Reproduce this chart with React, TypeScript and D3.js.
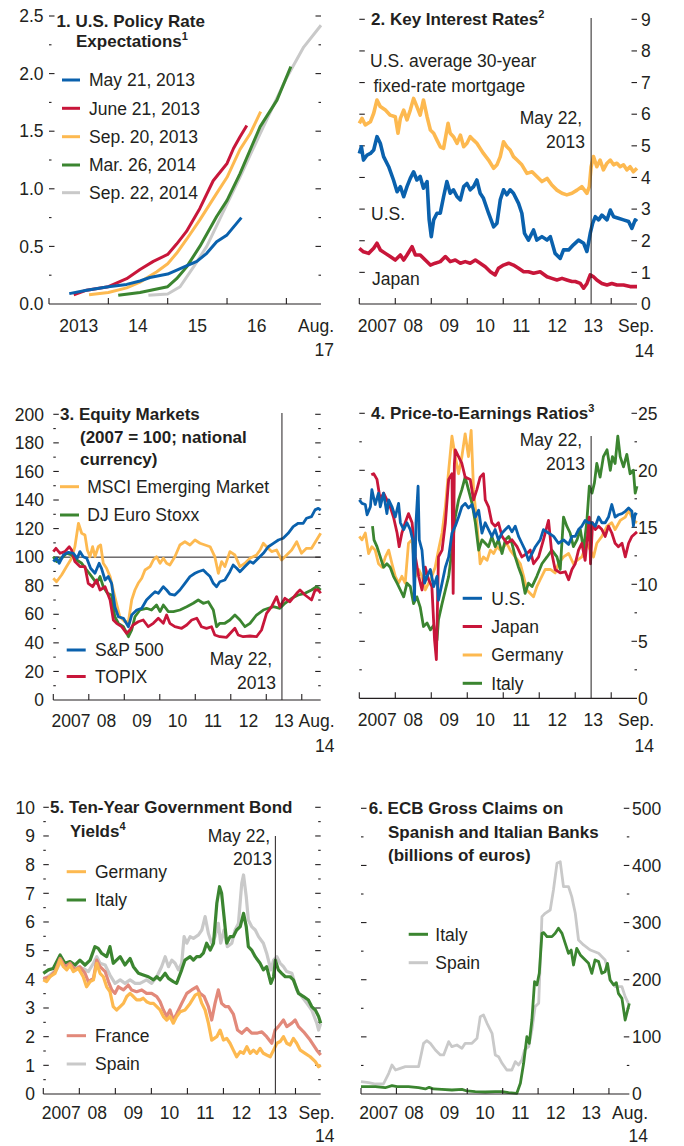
import React from 'react';
import * as d3 from 'd3';

type Pt = [number, number];

// ---------- Panel 1: U.S. policy rate expectations (x: months since Jan 2013, y: percent)
const p1May21: Pt[] = [[4.1,0.09],[7.6,0.12],[12,0.15],[15.7,0.17],[18.4,0.2],[20.4,0.23],[24,0.26],[27.8,0.33],[29.9,0.37],[31.9,0.44],[33.9,0.54],[36,0.6],[38.9,0.75]];
const p1Jun21: Pt[] = [[5.0,0.08],[7.6,0.12],[12,0.15],[15.7,0.22],[18.4,0.3],[21.1,0.37],[24,0.43],[25.8,0.52],[27.8,0.63],[30.5,0.83],[33.2,1.07],[36,1.22],[37.3,1.35],[38.6,1.45],[40,1.55]];
const p1Sep20: Pt[] = [[8.1,0.08],[12,0.1],[15.7,0.14],[18.4,0.19],[21.8,0.28],[24,0.35],[25.8,0.44],[27.8,0.56],[30.5,0.73],[33.9,0.96],[36,1.1],[38.6,1.34],[40.7,1.48],[42.8,1.67]];
const p1Mar26: Pt[] = [[14,0.075],[18.4,0.1],[21.8,0.13],[24,0.15],[25.8,0.22],[27.8,0.32],[30.5,0.5],[33.9,0.76],[36,0.9],[38.6,1.13],[42.7,1.54],[46.1,1.77],[48.9,2.06]];
const p1Sep22: Pt[] = [[20.1,0.075],[24,0.087],[26.5,0.15],[29.2,0.32],[31.9,0.5],[36,0.87],[38.6,1.1],[42.7,1.48],[48,1.96],[51.5,2.23],[55,2.42]];
const p1Years = ['2013', '14', '15', '16'];

// ---------- Panel 2: key interest rates (x: months since Jan 2007)
const p2Mortgage: Pt[] = [[0,5.71],[0.9,5.87],[2,5.66],[3.7,5.76],[4.8,6.03],[5.9,6.45],[7,6.24],[8.7,6.13],[10.3,5.97],[12,5.92],[12.9,5.4],[13.7,5.87],[14.8,6.13],[15.9,5.82],[17,6.13],[18.1,6.5],[19.2,6.24],[20.3,5.97],[21.4,6.45],[22.6,5.92],[23.7,5.5],[24.8,5.4],[25.9,5.18],[27,4.97],[28.1,4.92],[29.6,5.71],[30.3,5.4],[31.4,5.29],[32.6,5.08],[33.7,5.34],[34.8,4.97],[35.9,5.08],[37,5.29],[38.1,5.18],[39.2,5.08],[40.3,4.92],[41.4,4.76],[43.1,4.55],[44.8,4.29],[45.9,4.4],[47,4.66],[48.1,5.13],[49.2,4.97],[50.3,4.87],[51.4,4.66],[52.6,4.55],[54.2,4.4],[55.9,4.13],[57.6,4.18],[59.2,4.03],[60.9,3.87],[62.6,3.97],[64.2,3.76],[65.9,3.6],[67.6,3.5],[69.2,3.45],[70.9,3.5],[72.6,3.6],[74.2,3.71],[75.9,3.5],[76.7,3.71],[77.3,4.34],[78.1,4.66],[79.2,4.34],[80.3,4.55],[81.4,4.24],[82.6,4.45],[83.7,4.55],[84.8,4.4],[85.9,4.45],[87,4.34],[88.1,4.4],[89.2,4.24],[90.3,4.34],[91.4,4.18],[92.6,4.29]];
const p2US: Pt[] = [[0,4.76],[0.7,4.97],[1.4,4.55],[2.6,4.71],[3.7,4.76],[4.8,4.87],[5.9,5.29],[7,5.08],[8.1,4.66],[9.8,4.34],[11.4,3.92],[12.6,3.55],[13.7,3.71],[14.8,3.39],[15.9,3.71],[17,3.97],[18.1,4.18],[19.2,3.92],[20.3,4.03],[21.4,3.66],[22.6,3.87],[23.3,2.66],[24,2.13],[24.8,2.66],[25.9,2.87],[27,2.87],[28.1,3.39],[29.2,3.87],[30.3,3.5],[31.4,3.61],[32.6,3.39],[33.7,3.29],[34.8,3.71],[35.9,3.81],[37,3.61],[38.1,3.71],[39.2,3.92],[40.3,3.5],[41.4,3.34],[43.1,2.87],[44.8,2.44],[45.9,2.55],[47,3.29],[48.1,3.61],[49.2,3.45],[50.3,3.61],[51.4,3.5],[53.1,3.18],[54.2,2.87],[55.1,2.23],[56.4,2.02],[58.1,2.34],[59.2,2.02],[60.9,2.13],[62.6,2.02],[63.7,2.13],[65.3,1.6],[67,1.44],[68.1,1.71],[69.8,1.71],[71.4,1.87],[73.1,2.02],[74.8,1.92],[75.9,1.66],[77,2.23],[77.8,2.55],[78.7,2.76],[79.8,2.66],[80.9,2.81],[82.6,2.66],[83.7,2.97],[84.8,2.76],[86.4,2.71],[88.1,2.66],[89.8,2.61],[90.9,2.39],[92,2.66],[92.6,2.61]];
const p2Japan: Pt[] = [[0,1.76],[1.4,1.65],[3.1,1.6],[4.8,1.76],[5.9,1.92],[7,1.71],[8.7,1.6],[10.3,1.5],[12,1.39],[13.7,1.55],[14.8,1.39],[15.9,1.55],[17.6,1.81],[18.7,1.55],[20.3,1.55],[22,1.39],[23.7,1.23],[25.3,1.29],[27,1.34],[28.7,1.5],[30.3,1.34],[32,1.39],[33.7,1.29],[35.3,1.34],[37,1.29],[38.7,1.39],[40.3,1.29],[42,1.18],[43.7,1.02],[45.3,0.92],[46.4,1.13],[48.1,1.23],[49.8,1.29],[51.4,1.23],[53.1,1.13],[54.8,1.02],[56.4,1.02],[58.1,0.97],[60.3,1.02],[62.6,0.86],[64.2,0.81],[65.9,0.76],[67.6,0.81],[69.2,0.76],[70.9,0.71],[72,0.71],[73.7,0.65],[74.8,0.5],[75.9,0.65],[77,0.92],[78.1,0.86],[79.2,0.76],[80.9,0.65],[82.6,0.6],[84.2,0.65],[85.9,0.6],[88.1,0.6],[90.3,0.55],[92.6,0.55]];
const yearsFrom2007 = ['2007', '08', '09', '10', '11', '12', '13'];

// ---------- Panel 3: equity markets (2007 = 100)
const p3SP500: Pt[] = [[0,96.9],[1.1,99.2],[2,95.7],[3.4,101.5],[5.1,103.4],[6.8,102.7],[8.1,99.2],[9,103.9],[10.1,100.3],[11.3,99.2],[12.6,92.2],[14.1,88.7],[15.5,95.7],[16.3,92.2],[17.5,84],[18.6,86.4],[19.7,81.7],[20.8,65.3],[22,58.3],[23.7,57.2],[25.4,51.3],[26.5,59.5],[28.2,63],[29.9,64.2],[31.5,70],[33.2,73.5],[34.4,75.8],[35.5,74.7],[37.2,79.3],[38.3,77],[39.4,74.2],[41.1,73.5],[42.8,77],[44.5,81.7],[46.2,86.4],[47.9,88.7],[49,89.8],[50.7,91],[51.8,88.7],[53,86.4],[54.1,81.7],[55.2,79.3],[56.3,82.8],[58,84],[59.7,89.8],[60.8,94.5],[62,92.2],[63.1,89.8],[64.8,93.4],[66.5,96.9],[67.6,95.7],[68.7,98],[71,102.7],[72.7,107.3],[74.4,109.7],[76.1,112],[77.7,113.2],[79.4,116.7],[81.1,121.4],[82.8,123.7],[84.5,123.7],[85.6,127.2],[87.3,128.4],[88.5,133.1],[89.6,134.2],[90.4,133]];
const p3MSCI: Pt[] = [[0,85.2],[1.1,82.8],[2.8,87.5],[4.5,93.4],[6.2,99.2],[7.3,107.3],[8.5,123.7],[9.6,116.7],[10.7,115.5],[11.5,105],[12.4,100.3],[13.3,107.3],[14.1,100.3],[15.2,107.3],[16,108.5],[16.9,95.7],[18,92.2],[19.2,86.4],[20.8,72.3],[22.5,58.3],[24.2,54.8],[25.4,54.8],[26.5,70],[27.6,77],[28.7,81.7],[29.9,85.2],[31,91],[32.7,93.4],[33.8,98],[34.9,100.3],[36.1,95.7],[37.2,99.2],[38.3,95.7],[39.4,94.5],[41.1,100.3],[42.8,108.5],[44.5,110.8],[46.2,108.5],[47.9,112],[49.6,109.7],[51.3,108.5],[53,107.3],[54.6,100.3],[55.8,88.7],[56.9,96.9],[58,93.4],[59.7,103.9],[61.4,101.5],[63.1,93.4],[64.8,95.7],[66.5,99.2],[68.7,101.5],[69.9,105],[71,109.7],[72.1,107.3],[73.8,103.9],[75.5,105],[77.2,98],[78.9,101.5],[80.6,105],[82.3,110.8],[83.9,102.7],[85.6,106.2],[87.3,106.2],[89,112],[90.4,116.7]];
const p3EuroStoxx: Pt[] = [[0,100.3],[1.1,96.9],[2.8,99.2],[4.5,102.7],[6.2,101.5],[7.9,98],[9.6,95.7],[11.3,91],[13,86.4],[14.6,81.7],[15.8,86.4],[16.9,79.3],[18.3,74.7],[19.7,73.5],[20.8,58.3],[22,53.7],[23.7,51.3],[25.4,44.3],[26.5,49],[27.6,58.3],[29.3,63],[31.5,64.2],[33.2,63],[34.9,66.5],[36.1,61.9],[37.2,66.5],[38.9,61.9],[40.6,61.9],[42.8,63],[45.1,65.3],[47.3,67.7],[49,70],[50.7,67.7],[52.4,68.8],[54.1,63],[55.2,51.3],[56.3,53.7],[58,53.7],[59.7,56],[61.4,59.5],[63.1,56],[64.8,51.3],[66.5,53.7],[68.7,59.5],[71,63],[72.7,64.2],[74.4,65.3],[76.6,64.2],[78.3,67.7],[80.6,71.2],[82.8,73.5],[85.1,74.7],[87.3,77],[89,79.3],[90.4,77]];
const p3Topix: Pt[] = [[0,103.9],[0.9,106.2],[2.3,102.7],[3.9,103.9],[5.4,107.3],[6.2,105],[7.3,96.9],[9,93.4],[10.7,93.4],[11.8,81.7],[13.3,79.3],[14.6,84],[15.8,77],[17.5,79.3],[19.2,70],[20.3,56],[21.4,53.7],[23.1,51.3],[24.8,46.7],[25.9,49],[27,52.5],[28.7,54.8],[30.4,56],[32.1,51.3],[33.8,53.7],[35.5,57.2],[37.2,53.7],[38.3,59.5],[39.4,53.7],[41.1,51.3],[43.4,50.2],[45.1,52.5],[46.8,56],[48.5,57.2],[50.1,51.3],[51.8,50.2],[53.5,51.3],[54.6,45.5],[56.3,44.3],[58.6,43.9],[60.3,47.8],[61.4,50.2],[62.5,45.5],[64.2,44.3],[66.5,44.8],[68.7,44.3],[70.4,49],[72.1,60.7],[73.8,65.3],[75.5,72.3],[76.6,65.3],[78.3,71.2],[80,68.8],[82.3,74.7],[83.4,77],[85.1,73.5],[87.3,70],[88.5,77],[89.6,77],[90.4,74.7]];

// ---------- Panel 4: price-to-earnings ratios
const p4US: Pt[] = [[0,17.4],[0.9,17.1],[2,17],[2.6,16.1],[3.7,16.8],[4.2,18.3],[5.3,17],[6.4,18],[7,16.8],[8.1,18],[9.2,16.2],[9.8,17.4],[10.9,16.8],[12,15.9],[13.1,17.1],[13.7,15.4],[14.8,14.8],[15.9,15.4],[17,14.8],[17.8,13.9],[18.4,8.6],[18.9,15.4],[19.6,18.6],[20,13.9],[20.9,13],[21.8,10.1],[22.6,10.7],[23.7,11.3],[24.8,9.8],[25.9,10.7],[26.4,8.6],[27.6,10.1],[28.7,11.5],[29.8,12.4],[30.9,14.5],[32,15.1],[33.1,15.9],[34.2,16.8],[35.3,17.1],[36.4,16.7],[37.6,17],[38.7,15.9],[39.8,16.5],[40.9,14.5],[42,15.4],[43.1,14.8],[44.2,14.2],[45.3,14.8],[46.4,13.9],[47.6,14.5],[48.7,14.8],[49.8,15.1],[50.9,14.6],[52,15.1],[53.1,14.2],[54.2,13.6],[55.3,13],[56.4,12.1],[57.6,12.7],[58.7,13.3],[60.3,13.9],[61.4,14.8],[63.1,14.5],[64.8,14.2],[66.4,13.6],[68.1,13.9],[69.8,13.5],[70.9,14.2],[72,14.2],[73.1,14.8],[74.2,15.1],[75.3,15.6],[76.4,15.4],[77.6,15.4],[78.7,15.1],[79.8,15.9],[80.9,15.4],[82,15.4],[83.1,15.9],[84.2,17],[85.3,15.9],[86.4,16.1],[87.6,16.2],[88.7,16.4],[89.8,16.7],[90.9,16.4],[91.4,15.1],[92,16.2],[92.6,16.1]];
const p4Japan: Pt[] = [[4,19.6],[4.8,19.7],[5.9,19.2],[7,17.4],[8.1,18],[9.2,17.4],[10.3,16.8],[11.4,15.9],[12.6,14.5],[13.3,13.3],[14.2,14.5],[15.3,15.4],[16.4,16.2],[17.6,15.4],[18.7,12.4],[19.8,10.7],[20.9,9.5],[22,11.5],[23.1,10.4],[24.2,9.8],[25.1,5.1],[25.7,3.4],[26.4,12.4],[27.6,13],[28.7,15.4],[29.8,19.2],[30.9,19.7],[31.3,9.2],[31.7,20.5],[32,21.8],[33.1,21.2],[34.2,20.6],[35.3,19.4],[37,19.2],[38.1,17.4],[39.2,18.3],[40.3,19.4],[41.4,19.7],[42,17.4],[43.1,16.8],[44.2,15.4],[45.3,15.1],[46.4,15.4],[47.6,14.2],[49.2,13.6],[50.9,13.9],[52.6,13.3],[54.2,12.4],[55.9,12.7],[57,13],[58.1,11.8],[59.8,12.4],[61.4,13.9],[63.1,15.6],[64.2,12.7],[65.3,11.3],[67,11],[68.7,11.1],[69.8,10.4],[70.9,11.3],[72,11.8],[73.1,13],[74.2,13.6],[75.3,12.1],[76.2,14.5],[76.7,15.9],[77.1,11.8],[77.8,15.4],[78.7,14.8],[79.8,15.1],[80.9,14.8],[82,14.2],[83.1,15.1],[84.2,14.5],[85.3,13.6],[86.4,13.3],[87.6,13.6],[88.7,12.4],[89.8,13.6],[90.9,14.2],[92.6,14.6]];
const p4Germany: Pt[] = [[0,14.2],[0.9,13.9],[2,14.5],[3.1,12.7],[4.2,13.3],[5.3,13],[6.4,11.8],[7.6,11.5],[8.7,12.4],[9.8,13],[10.9,11.8],[12,10.7],[13.1,10.1],[14.2,10.7],[15.3,10.1],[16.4,13.6],[17.6,13.9],[18.7,10.7],[19.8,11.3],[20.9,10.7],[22,9.5],[23.1,10.1],[24.2,10.7],[25.3,11.5],[26.4,13],[27.6,14.5],[28.7,16.8],[29.8,20],[30.9,23],[32,21.2],[33.1,19.7],[34.2,21.2],[35.3,23.2],[36.4,21.2],[37.3,23.5],[38.1,18.3],[39.2,15.4],[40.3,11.8],[41.4,12.4],[42.6,12.1],[43.7,13],[44.8,12.7],[45.9,13.3],[47,13],[48.1,13.3],[49.2,13.6],[50.3,13],[52,12.4],[53.7,11.8],[54.8,10.7],[55.9,9.5],[57,9.2],[58.1,8.9],[59.2,9.8],[60.3,10.4],[62,11.3],[63.7,11.3],[65.3,11],[66.4,11.8],[68.1,12.4],[69.8,12.7],[71.4,11.8],[72.6,12.1],[74.2,12.4],[75.9,13.6],[77,13],[78.1,12.4],[79.2,13.6],[80.9,14.2],[82.6,15.1],[84.2,15.4],[85.3,14.8],[87,15.6],[88.7,15.9],[89.8,16.5],[91.4,15.6],[92.6,15.4]];
const p4Italy: Pt[] = [[4.4,15.1],[4.9,13.9],[5.9,13.3],[7,12.4],[8.1,11.5],[9.2,11.8],[10.3,11.5],[11.4,10.7],[12.6,10.1],[13.7,9.5],[14.8,8.9],[15.9,10.1],[17,9.8],[18.1,8.3],[19.2,8.9],[20.3,8],[21.4,6.3],[22.6,6.6],[23.7,6],[24.8,6.4],[25.9,5.1],[26.4,6.9],[27.6,8.3],[28.7,9.5],[29.8,10.7],[30.9,13],[32,15.9],[33.1,17.4],[34.2,18.3],[35.3,19.4],[36.4,18.3],[37.6,17.1],[38.7,15.4],[39.8,13],[40.9,13.9],[42,13.6],[43.1,13.3],[44.2,14.2],[45.3,13.3],[46.4,13.9],[47.6,12.7],[48.7,13.9],[49.8,14.2],[50.9,13.6],[52,12.4],[53.1,11.5],[54.2,10.7],[55.3,9.2],[56.4,10.1],[57.6,9.8],[59.2,10.7],[60.9,11.8],[62.6,12.4],[64.2,13],[65.9,12.4],[67,11.3],[68.1,15.9],[69.2,15.1],[70.3,14.5],[71.4,13.3],[72.6,13.9],[73.7,14.8],[74.8,13],[75.9,15.6],[76.7,18.6],[77.6,18],[78.4,18.9],[79.2,20.6],[80.3,19.4],[81.4,21.2],[82.6,21.8],[83.7,20],[84.4,21.2],[85.3,20.6],[86.2,23],[87,21.2],[88.1,20.3],[89.2,21.4],[90.3,19.7],[91.4,20],[92,18],[92.6,18.6]];

// ---------- Panel 5: ten-year government bond yields
const p5Germany: Pt[] = [[0,3.98],[1.1,3.92],[2.2,4.09],[3.9,4.21],[5.6,4.67],[6.7,4.44],[7.8,4.33],[8.9,4.5],[10,4.27],[11.7,4.38],[13.3,4.09],[14.4,3.74],[15.6,3.92],[16.7,3.98],[17.8,4.56],[18.9,4.21],[20,4.09],[21.1,3.74],[22.2,3.57],[23.3,3.05],[24.4,2.93],[25.6,3.05],[26.7,3.16],[27.8,3.4],[28.9,3.51],[30,3.4],[31.1,3.28],[32.2,3.28],[33.3,3.34],[34.4,3.22],[35.6,3.16],[36.7,3.16],[37.8,3.05],[38.9,2.93],[40,2.7],[41.1,2.58],[42.2,2.7],[43.3,2.47],[44.4,2.7],[45.6,2.87],[47.2,2.93],[48.9,3.16],[50.6,3.45],[51.7,3.51],[52.8,3.16],[53.9,2.93],[55,2.47],[56.1,1.88],[57.8,2],[58.9,2.23],[60,1.88],[61.1,1.94],[62.2,1.77],[63.3,1.53],[64.4,1.3],[65.6,1.48],[66.7,1.42],[67.8,1.65],[68.9,1.42],[70,1.53],[71.1,1.42],[72.2,1.59],[73.3,1.42],[74.4,1.36],[75.6,1.3],[76.7,1.53],[77.8,1.77],[78.9,1.83],[80,2],[81.1,1.77],[82.2,1.71],[83.3,1.94],[84.4,1.77],[85.6,1.53],[87.2,1.42],[88.9,1.3],[90.6,1.13],[91.7,0.95],[92.4,1.01]];
const p5France: Pt[] = [[0,4.03],[2.2,4.09],[3.9,4.27],[5.6,4.73],[7.2,4.44],[8.9,4.56],[10.6,4.33],[12.2,4.44],[13.9,4.21],[15,3.92],[16.7,4.03],[17.8,4.67],[18.9,4.44],[20.6,4.27],[21.7,3.92],[22.8,3.63],[23.9,3.51],[25,3.74],[26.7,3.63],[28.3,3.8],[29.4,3.63],[31.1,3.57],[32.8,3.63],[34.4,3.51],[36.1,3.51],[37.8,3.4],[38.9,3.22],[40,2.93],[41.1,2.7],[42.2,2.93],[43.3,2.58],[44.4,2.79],[46.1,3.16],[47.8,3.51],[49.4,3.63],[51.1,3.74],[52.2,3.51],[53.6,3.4],[55,3.05],[56.1,2.58],[57.2,3.16],[58.3,3.63],[59.4,3.16],[60.6,3.05],[61.7,3.05],[63.3,2.79],[64.7,2.23],[66.1,2.12],[67.8,2.29],[69.4,2.12],[71.1,2.12],[72.8,2.17],[74.4,2],[76.1,1.77],[77.2,2.23],[78.3,2.35],[80,2.58],[81.1,2.35],[82.8,2.47],[83.9,2.58],[85,2.35],[86.7,2.17],[88.9,1.88],[91.1,1.53],[92.4,1.36]];
const p5Italy: Pt[] = [[0,4.21],[1.7,4.33],[3.3,4.38],[5.6,4.85],[7.2,4.56],[8.9,4.62],[10.6,4.5],[12.2,4.67],[13.9,4.5],[15.6,4.67],[17.2,5.14],[18.3,5.08],[19.4,4.91],[21.1,4.79],[22.2,5.14],[23.3,4.56],[24.4,4.67],[25.6,4.79],[27.2,4.5],[28.9,4.73],[30,4.44],[31.7,4.21],[33.3,4.15],[35,4.09],[36.7,3.98],[37.8,4.09],[38.9,3.98],[40.6,4.21],[41.7,4.03],[43.3,3.92],[44.4,3.86],[46.1,4.33],[47.2,4.67],[48.9,4.79],[50,4.67],[51.1,4.79],[52.2,4.79],[53.3,4.91],[54.4,5.26],[55.6,5.02],[56.7,5.26],[57.8,6.65],[58.7,7.23],[59.4,7],[60.2,6.19],[61.1,5.26],[62.2,5.49],[63.3,5.49],[64.4,5.72],[65.6,5.84],[66.7,6.3],[67.6,5.84],[68.3,5.14],[69.4,5.02],[70.6,4.79],[72.2,4.56],[73.3,4.33],[74.4,4.44],[75.8,3.86],[76.7,4.09],[77.3,4.67],[78.3,4.33],[79.4,4.21],[80.6,4.09],[82.2,4.09],[83.3,3.98],[85,3.51],[86.7,3.4],[88.3,3.28],[89.4,3.05],[90.6,2.93],[91.7,2.7],[92.4,2.47]];
const p5Spain: Pt[] = [[0,3.98],[2.2,4.15],[4.4,4.33],[6.1,4.67],[7.8,4.38],[9.4,4.5],[11.1,4.44],[13.3,4.38],[15,4.27],[16.7,4.56],[17.8,4.79],[18.9,4.56],[20.6,4.5],[22.2,4.15],[23.9,3.86],[25.6,3.98],[27.2,3.86],[28.9,3.98],[30.6,3.86],[32.2,3.86],[34.4,3.98],[36.1,3.86],[37.8,4.09],[39.4,4.44],[40.6,4.79],[41.7,4.44],[42.8,4.67],[43.9,4.56],[45,4.33],[46.1,4.56],[46.9,5.49],[47.8,5.26],[48.9,5.49],[50,5.43],[51.7,5.55],[52.8,5.72],[53.9,6.19],[55,5.6],[56.1,5.26],[57.2,5.49],[58.3,5.95],[59.1,5.26],[60.2,5.72],[61.3,5.14],[62.8,5.26],[63.9,5.72],[65,5.95],[66.1,7.35],[66.7,7.64],[67.6,6.88],[68.3,6.07],[69.4,5.84],[70.6,5.72],[71.7,5.49],[73.3,5.26],[74.4,4.91],[75.8,4.33],[76.7,4.67],[77.8,4.79],[78.9,4.56],[80,4.44],[81.1,4.27],[82.8,4.21],[84.4,3.63],[86.1,3.4],[87.8,3.16],[89.4,2.93],[91.1,2.47],[91.7,2.23],[92.4,2.47]];

// ---------- Panel 6: ECB gross claims (billions of euros)
const p6Italy: Pt[] = [[0,12.8],[2.6,12.8],[4.9,12.8],[8.2,11],[10.5,14.6],[12.2,12.8],[16.1,12.8],[19.5,11],[21.8,8.8],[23.1,11.7],[24.6,8.8],[27.4,8.2],[30.8,7],[34.2,8.2],[35.9,5.3],[38.7,4.1],[42.1,3.5],[45.5,4.1],[47.8,4.1],[50,2.3],[52.8,1.2],[54,18.7],[55.1,53.7],[56.2,100.4],[57,88.7],[57.9,129.5],[58.8,196.6],[59.6,190.8],[60.4,211.2],[61.3,281.2],[61.9,282.4],[63,275.4],[64.7,275.4],[65.8,281.2],[66.9,290],[68.1,281.2],[69.2,263.7],[70.3,246.2],[71.2,252],[72,225.8],[73.1,255],[74.3,243.4],[75.4,237.5],[77.1,228.7],[78.2,211.2],[79.3,234.6],[80.5,231.7],[81.6,211.2],[82.7,214.1],[83.5,228.7],[84.4,199.5],[85.6,190.8],[86.5,194.9],[87.2,176.2],[88.4,167.4],[89.5,129.5],[90.9,158.7]];
const p6Spain: Pt[] = [[0,21.6],[2.6,19.8],[4.9,17.5],[7.6,17.5],[9.4,36.2],[10.5,50.8],[11.7,42],[13.3,44.9],[15,47.8],[17.3,47.8],[19.5,47.8],[21.2,88.7],[22.3,93.3],[23.5,88.7],[25.2,77],[26.9,68.3],[28,68.3],[29.7,91.6],[30.8,82.8],[32.5,85.7],[34.2,79.9],[35.3,88.7],[37.6,88.7],[39.3,97.4],[40.4,135.4],[41.5,138.3],[42.7,123.7],[44.4,106.2],[45.5,68.3],[46.6,65.3],[47.8,53.7],[49.4,42],[51.1,42],[52.3,56.6],[53.4,50.8],[54.5,59.5],[55.4,77],[56.8,82.8],[57.9,112],[59,152.9],[60.2,158.7],[61.3,310.4],[62.4,316.2],[64.1,322],[65.2,357],[66.4,403.7],[67.5,406.6],[68.6,362.9],[70.3,362.9],[71.4,345.4],[72.6,316.2],[73.7,269.5],[75.4,260.8],[77.7,252],[80.5,246.2],[82.7,234.6],[84.4,199.5],[86.2,187.8],[88.4,187.8],[89.5,170.4],[90.6,158.7]];
const yearsFrom2007b = ['2007', '08', '09', '10', '11', '12', '13'];

const eventMonth = 77.3; // May 22, 2013 (months since Jan 2007)

const FONT = '"Liberation Sans", Arial, Helvetica, sans-serif';
const INK = '#231f20';
const BLUE = '#0a61ad';
const RED = '#c8163a';
const YELLOW = '#fdb950';
const GREEN = '#3b8530';
const GRAY = '#c9c9c9';
const SALMON = '#e2897a';
const FS = 17.5;

interface Series { data: Pt[]; color: string; width: number; }
interface TextItem { text: string; x: number; y: number; anchor?: 'start' | 'end' | 'middle'; bold?: boolean; sup?: string; }
interface LegendItem { label: string; color: string; x1: number; x2: number; tx: number; y: number; }
interface PanelCfg {
  left: number; right: number; y0: number; yTop: number;
  xMax: number; yMax: number; major: number; minor: number;
  labelSide: 'left' | 'right'; labelX: number; fmt: (v: number) => string;
  yearLabels: string[]; endLabel: [string, string]; endX: number; yearBase: number; yearBase2: number;
  series: Series[];
  event?: { month: number; top: number };
  hline?: number;
  texts: TextItem[];
  legend: LegendItem[];
}

function Panel({ cfg }: { cfg: PanelCfg }) {
  const x = d3.scaleLinear().domain([0, cfg.xMax]).range([cfg.left, cfg.right]);
  const y = d3.scaleLinear().domain([0, cfg.yMax]).range([cfg.y0, cfg.yTop]);
  const line = d3.line<Pt>().x(d => x(d[0])).y(d => y(d[1]));
  const yTicks = d3.range(1, Math.round(cfg.yMax / cfg.minor) + 1).map(i => i * cfg.minor);
  const xTicks = d3.range(0, cfg.xMax, 12);
  const isMajor = (v: number) => Math.abs(v / cfg.major - Math.round(v / cfg.major)) < 1e-6;
  const majorTicks = [0, ...yTicks.filter(isMajor)];
  return (
    <g>
      {yTicks.map((v, i) => {
        const len = isMajor(v) ? 5.5 : 2.5;
        const yy = y(v);
        return (
          <g key={'yt' + i}>
            <line x1={cfg.left} x2={cfg.left + len} y1={yy} y2={yy} stroke={INK} strokeWidth={1.1} />
            <line x1={cfg.right - len} x2={cfg.right} y1={yy} y2={yy} stroke={INK} strokeWidth={1.1} />
          </g>
        );
      })}
      {majorTicks.map((v, i) => (
        <text key={'yl' + i} x={cfg.labelX} y={y(v) + 6.2} textAnchor={cfg.labelSide === 'left' ? 'end' : 'start'}
          fontSize={FS} fill={INK}>{cfg.fmt(v)}</text>
      ))}
      {cfg.hline !== undefined && (
        <line x1={cfg.left} x2={cfg.right} y1={y(cfg.hline)} y2={y(cfg.hline)} stroke={INK} strokeWidth={1} />
      )}
      {cfg.series.map((s, i) => (
        <path key={'s' + i} d={line(s.data) || ''} fill="none" stroke={s.color} strokeWidth={s.width}
          strokeLinejoin="round" strokeLinecap="butt" />
      ))}
      {cfg.event && (
        <line x1={x(cfg.event.month)} x2={x(cfg.event.month)} y1={cfg.event.top} y2={cfg.y0} stroke={INK} strokeWidth={1} />
      )}
      <line x1={cfg.left} x2={cfg.right} y1={cfg.y0} y2={cfg.y0} stroke={INK} strokeWidth={1.2} />
      {xTicks.map((m, i) => (
        <line key={'xt' + i} x1={x(m)} x2={x(m)} y1={cfg.y0} y2={cfg.y0 - 6} stroke={INK} strokeWidth={1.1} />
      ))}
      {cfg.yearLabels.map((l, i) => (
        <text key={'xl' + i} x={x(i * 12 + 6)} y={cfg.yearBase} textAnchor="middle" fontSize={FS} fill={INK}>{l}</text>
      ))}
      <text x={cfg.endX} y={cfg.yearBase} textAnchor="end" fontSize={FS} fill={INK}>{cfg.endLabel[0]}</text>
      <text x={cfg.endX} y={cfg.yearBase2} textAnchor="end" fontSize={FS} fill={INK}>{cfg.endLabel[1]}</text>
      {cfg.legend.map((l, i) => (
        <g key={'lg' + i}>
          <line x1={l.x1} x2={l.x2} y1={l.y} y2={l.y} stroke={l.color} strokeWidth={3} />
          <text x={l.tx} y={l.y + 6.2} fontSize={FS} fill={INK}>{l.label}</text>
        </g>
      ))}
      {cfg.texts.map((t, i) => (
        <text key={'tx' + i} x={t.x} y={t.y} textAnchor={t.anchor || 'start'} fontSize={t.bold ? 17 : FS}
          fontWeight={t.bold ? 'bold' : 'normal'} fill={INK}>
          {t.text}
          {t.sup && <tspan fontSize={11} dy={-7}>{t.sup}</tspan>}
        </text>
      ))}
    </g>
  );
}

const fmt1 = (v: number) => v.toFixed(1);
const fmt0 = (v: number) => String(Math.round(v));

const panels: PanelCfg[] = [
  {
    left: 49, right: 321, y0: 304, yTop: 16, xMax: 55, yMax: 2.5, major: 0.5, minor: 0.25,
    labelSide: 'left', labelX: 43.5, fmt: fmt1,
    yearLabels: p1Years, endLabel: ['Aug.', '17'], endX: 334, yearBase: 332, yearBase2: 356,
    series: [
      { data: p1Sep22, color: GRAY, width: 3 },
      { data: p1Mar26, color: GREEN, width: 3 },
      { data: p1Sep20, color: YELLOW, width: 3 },
      { data: p1Jun21, color: RED, width: 3 },
      { data: p1May21, color: BLUE, width: 3 },
    ],
    texts: [
      { text: '1. U.S. Policy Rate', x: 56.5, y: 26.5, bold: true },
      { text: 'Expectations', x: 76, y: 47, bold: true, sup: '1' },
    ],
    legend: [
      { label: 'May 21, 2013', color: BLUE, x1: 62, x2: 80, tx: 89, y: 80 },
      { label: 'June 21, 2013', color: RED, x1: 62, x2: 80, tx: 89, y: 108.3 },
      { label: 'Sep. 20, 2013', color: YELLOW, x1: 62, x2: 80, tx: 89, y: 136.7 },
      { label: 'Mar. 26, 2014', color: GREEN, x1: 62, x2: 80, tx: 89, y: 165 },
      { label: 'Sep. 22, 2014', color: GRAY, x1: 62, x2: 80, tx: 89, y: 192.7 },
    ],
  },
  {
    left: 359.3, right: 637, y0: 304, yTop: 19.3, xMax: 92.6, yMax: 9, major: 1, minor: 1,
    labelSide: 'right', labelX: 641, fmt: fmt0,
    yearLabels: yearsFrom2007, endLabel: ['Sep.', '14'], endX: 654, yearBase: 332, yearBase2: 356.5,
    series: [
      { data: p2Mortgage, color: YELLOW, width: 3.6 },
      { data: p2US, color: BLUE, width: 3.6 },
      { data: p2Japan, color: RED, width: 3.6 },
    ],
    event: { month: eventMonth, top: 18 },
    texts: [
      { text: '2. Key Interest Rates', x: 371, y: 25, bold: true, sup: '2' },
      { text: 'U.S. average 30-year', x: 370, y: 66.5 },
      { text: 'fixed-rate mortgage', x: 373.5, y: 91.5 },
      { text: 'U.S.', x: 371, y: 220 },
      { text: 'Japan', x: 372, y: 285 },
      { text: 'May 22,', x: 582, y: 123.5, anchor: 'end' },
      { text: '2013', x: 585, y: 147.5, anchor: 'end' },
    ],
    legend: [],
  },
  {
    left: 53.3, right: 320.7, y0: 700, yTop: 414.3, xMax: 90.4, yMax: 200, major: 20, minor: 10,
    labelSide: 'left', labelX: 44, fmt: fmt0,
    yearLabels: yearsFrom2007, endLabel: ['Aug.', '14'], endX: 334.5, yearBase: 727, yearBase2: 751.5,
    series: [
      { data: p3MSCI, color: YELLOW, width: 2.8 },
      { data: p3EuroStoxx, color: GREEN, width: 2.8 },
      { data: p3Topix, color: RED, width: 2.8 },
      { data: p3SP500, color: BLUE, width: 2.8 },
    ],
    event: { month: eventMonth, top: 413 },
    hline: 100,
    texts: [
      { text: '3. Equity Markets', x: 60, y: 420, bold: true },
      { text: '(2007 = 100; national', x: 80, y: 443, bold: true },
      { text: 'currency)', x: 80, y: 465, bold: true },
      { text: 'May 22,', x: 272, y: 665, anchor: 'end' },
      { text: '2013', x: 276, y: 689, anchor: 'end' },
    ],
    legend: [
      { label: 'MSCI Emerging Market', color: YELLOW, x1: 60, x2: 79, tx: 87.3, y: 486.7 },
      { label: 'DJ Euro Stoxx', color: GREEN, x1: 60, x2: 79, tx: 87.3, y: 515 },
      { label: 'S&P 500', color: BLUE, x1: 66.7, x2: 85.7, tx: 95, y: 650 },
      { label: 'TOPIX', color: RED, x1: 66.7, x2: 85.7, tx: 95, y: 676.5 },
    ],
  },
  {
    left: 359.3, right: 637, y0: 698.3, yTop: 413.3, xMax: 92.6, yMax: 25, major: 5, minor: 2.5,
    labelSide: 'right', labelX: 638, fmt: fmt0,
    yearLabels: yearsFrom2007, endLabel: ['Sep.', '14'], endX: 654, yearBase: 725.5, yearBase2: 751.5,
    series: [
      { data: p4Germany, color: YELLOW, width: 2.8 },
      { data: p4Italy, color: GREEN, width: 2.8 },
      { data: p4Japan, color: RED, width: 2.8 },
      { data: p4US, color: BLUE, width: 2.8 },
    ],
    event: { month: eventMonth, top: 436 },
    texts: [
      { text: '4. Price-to-Earnings Ratios', x: 371, y: 419, bold: true, sup: '3' },
      { text: 'May 22,', x: 582, y: 446, anchor: 'end' },
      { text: '2013', x: 585, y: 470, anchor: 'end' },
    ],
    legend: [
      { label: 'U.S.', color: BLUE, x1: 462.7, x2: 482, tx: 491.3, y: 598.3 },
      { label: 'Japan', color: RED, x1: 462.7, x2: 482, tx: 491.3, y: 626.5 },
      { label: 'Germany', color: YELLOW, x1: 462.7, x2: 482, tx: 491.3, y: 655 },
      { label: 'Italy', color: GREEN, x1: 462.7, x2: 482, tx: 491.3, y: 683.3 },
    ],
  },
  {
    left: 43.3, right: 320.7, y0: 1094, yTop: 807.3, xMax: 92.4, yMax: 10, major: 1, minor: 0.5,
    labelSide: 'left', labelX: 35, fmt: fmt0,
    yearLabels: yearsFrom2007b, endLabel: ['Sep.', '14'], endX: 334.5, yearBase: 1118.5, yearBase2: 1141.5,
    series: [
      { data: p5Spain, color: GRAY, width: 3.2 },
      { data: p5Italy, color: GREEN, width: 3.2 },
      { data: p5France, color: SALMON, width: 3.2 },
      { data: p5Germany, color: YELLOW, width: 3.2 },
    ],
    event: { month: eventMonth, top: 836 },
    texts: [
      { text: '5. Ten-Year Government Bond', x: 50, y: 813, bold: true },
      { text: 'Yields', x: 70, y: 836.5, bold: true, sup: '4' },
      { text: 'May 22,', x: 270, y: 841.5, anchor: 'end' },
      { text: '2013', x: 272, y: 865, anchor: 'end' },
    ],
    legend: [
      { label: 'Germany', color: YELLOW, x1: 66.7, x2: 86, tx: 95, y: 871.7 },
      { label: 'Italy', color: GREEN, x1: 66.7, x2: 86, tx: 95, y: 900 },
      { label: 'France', color: SALMON, x1: 66.7, x2: 86, tx: 95, y: 1035.7 },
      { label: 'Spain', color: GRAY, x1: 66.7, x2: 86, tx: 95, y: 1064 },
    ],
  },
  {
    left: 361, right: 629.3, y0: 1094, yTop: 808.3, xMax: 90.9, yMax: 500, major: 100, minor: 50,
    labelSide: 'right', labelX: 632, fmt: fmt0,
    yearLabels: yearsFrom2007b, endLabel: ['Aug.', '14'], endX: 648, yearBase: 1118.5, yearBase2: 1141.5,
    series: [
      { data: p6Spain, color: GRAY, width: 2.8 },
      { data: p6Italy, color: GREEN, width: 2.8 },
    ],
    texts: [
      { text: '6. ECB Gross Claims on', x: 368.7, y: 814, bold: true },
      { text: 'Spanish and Italian Banks', x: 388, y: 838, bold: true },
      { text: '(billions of euros)', x: 388, y: 861, bold: true },
    ],
    legend: [
      { label: 'Italy', color: GREEN, x1: 408.7, x2: 428, tx: 435.3, y: 934.3 },
      { label: 'Spain', color: GRAY, x1: 408.7, x2: 428, tx: 435.3, y: 962.7 },
    ],
  },
];

export default function App() {
  return (
    <svg width={684} height={1146} style={{ position: 'absolute', left: 0, top: 0, background: '#fff' }}
      fontFamily={FONT}>
      <rect x={0} y={0} width={684} height={1146} fill="#fff" />
      {panels.map((p, i) => <Panel key={i} cfg={p} />)}
    </svg>
  );
}
